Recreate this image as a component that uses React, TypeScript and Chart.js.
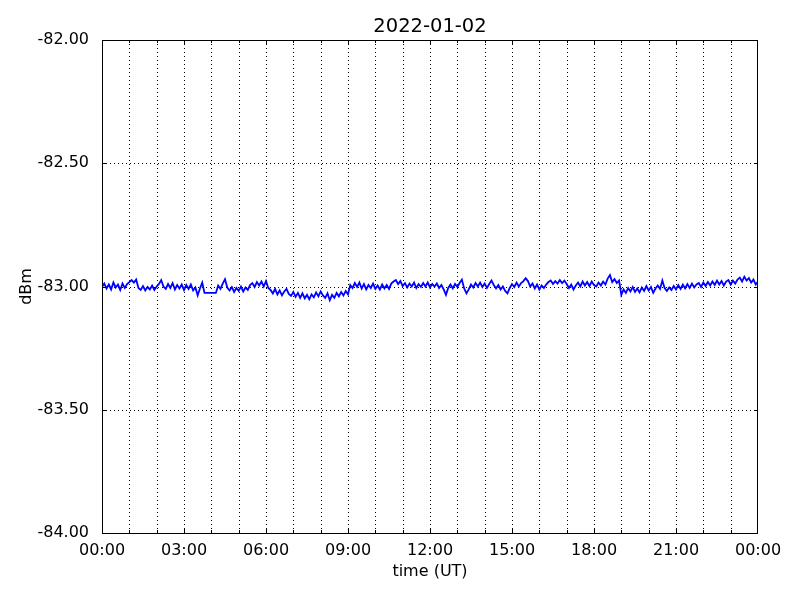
import React, { useEffect, useRef } from "react";
import { Chart, registerables } from "chart.js";

Chart.register(...registerables);

const TITLE = "2022-01-02";
const X_LABEL = "time (UT)";
const Y_LABEL = "dBm";
const STEP_MIN = 5;
const xTickLabels = ["00:00", "03:00", "06:00", "09:00", "12:00", "15:00", "18:00", "21:00", "00:00"];
const yTickValues = [-84, -83.5, -83, -82.5, -82];

// received power (dBm), one sample every 5 minutes, null = missing
const power: (number | null)[] = [
  -83.002, -82.988, -83.008, -82.992, -83.012, -82.984, -83.004, -82.992, -83.014, -82.988,
  -83.006, -82.990, -82.982, -82.974, -82.984, -82.972, -83.006, -83.014, -82.998, -83.016,
  -83.002, -83.012, -82.996, -83.014, -83.000, -82.990, -82.974, -83.000, -83.010, -82.990,
  -83.006, -82.986, -83.012, -82.994, -83.008, -82.992, -83.014, -82.994, -83.010, -82.992,
  -83.016, -83.004, -83.036, -83.008, -82.984, -83.026, null, null, null, null,
  -83.026, -82.996, -83.010, -82.988, -82.970, -83.004, -83.016, -83.002, -83.022, -83.006,
  -83.018, -83.000, -83.020, -83.004, -83.014, -82.994, -82.986, -83.002, -82.982, -82.996,
  -82.980, -83.000, -82.978, -83.006, -83.014, -83.028, -83.010, -83.032, -83.016, -83.036,
  -83.020, -83.010, -83.030, -83.038, -83.022, -83.042, -83.026, -83.046, -83.028, -83.048,
  -83.034, -83.052, -83.032, -83.044, -83.024, -83.040, -83.020, -83.036, -83.046, -83.028,
  -83.056, -83.034, -83.046, -83.026, -83.040, -83.022, -83.036, -83.018, -83.032, -82.994,
  -83.006, -82.986, -83.002, -82.984, -83.008, -82.990, -83.012, -82.994, -83.006, -82.988,
  -83.010, -82.996, -83.012, -82.992, -83.008, -82.994, -83.010, -82.988, -82.980, -82.974,
  -82.990, -82.978, -82.998, -82.986, -83.004, -82.988, -83.000, -82.984, -83.006, -82.990,
  -83.002, -82.986, -83.000, -82.984, -83.004, -82.990, -83.000, -82.988, -83.006, -82.994,
  -83.012, -83.034, -83.006, -82.992, -83.008, -82.990, -83.002, -82.986, -82.972, -83.008,
  -83.028, -83.012, -82.992, -83.004, -82.986, -83.000, -82.984, -83.002, -82.988, -83.006,
  -82.990, -82.976, -82.994, -83.008, -82.994, -83.012, -83.000, -83.018, -83.028, -83.006,
  -82.990, -83.002, -82.984, -83.000, -82.986, -82.978, -82.966, -82.978, -83.000, -82.988,
  -83.008, -82.992, -83.012, -82.996, -83.006, -82.992, -82.982, -82.976, -82.990, -82.978,
  -82.988, -82.974, -82.986, -82.976, -82.990, -83.006, -82.992, -83.012, -82.996, -82.984,
  -83.000, -82.980, -82.996, -82.982, -82.998, -82.980, -82.994, -83.000, -82.984, -82.996,
  -82.980, -82.992, -82.968, -82.954, -82.982, -82.970, -82.986, -82.976, -83.034, -83.012,
  -83.026, -83.006, -83.020, -83.002, -83.022, -83.008, -83.024, -83.004, -83.018, -82.998,
  -83.016, -83.002, -83.026, -83.008, -82.996, -83.010, -82.976, -83.006, -83.018, -83.004,
  -83.014, -82.998, -83.012, -82.994, -83.010, -82.992, -83.008, -82.990, -83.006, -82.988,
  -83.004, -82.992, -82.986, -83.002, -82.984, -82.998, -82.982, -82.996, -82.980, -82.994,
  -82.976, -82.992, -82.978, -82.996, -82.980, -82.974, -82.992, -82.976, -82.988, -82.972,
  -82.964, -82.980, -82.960, -82.976, -82.966, -82.984, -82.972, -82.992, -82.980,
];

const FONT = "'DejaVu Sans', sans-serif";

const decorPlugin = {
  id: "decor",
  beforeDatasetsDraw(chart: any) {
    const { ctx, chartArea: a, scales } = chart;
    const xs = scales.x;
    const ys = scales.y;
    ctx.save();
    ctx.strokeStyle = "#000";
    ctx.lineWidth = 1;
    ctx.setLineDash([1, 3]);
    for (let m = 60; m < 1440; m += 60) {
      const px = Math.round(xs.getPixelForValue(m)) + 0.5;
      ctx.beginPath();
      ctx.moveTo(px, a.top);
      ctx.lineTo(px, a.bottom);
      ctx.stroke();
    }
    for (const v of yTickValues.slice(1, -1)) {
      const py = Math.round(ys.getPixelForValue(v)) + 0.5;
      ctx.beginPath();
      ctx.moveTo(a.left, py);
      ctx.lineTo(a.right, py);
      ctx.stroke();
    }
    ctx.restore();
  },
  afterDatasetsDraw(chart: any) {
    const { ctx, chartArea: a, scales } = chart;
    const xs = scales.x;
    const ys = scales.y;
    ctx.save();
    ctx.strokeStyle = "#000";
    ctx.lineWidth = 1;
    ctx.setLineDash([]);
    ctx.strokeRect(Math.round(a.left) + 0.5, Math.round(a.top) + 0.5, Math.round(a.right - a.left) - 1, Math.round(a.bottom - a.top));
    // inward ticks
    ctx.beginPath();
    for (let m = 60; m < 1440; m += 60) {
      const px = Math.round(xs.getPixelForValue(m)) + 0.5;
      const len = m % 180 === 0 ? 4 : 3;
      ctx.moveTo(px, a.bottom);
      ctx.lineTo(px, a.bottom - len);
      ctx.moveTo(px, a.top);
      ctx.lineTo(px, a.top + len);
    }
    for (const v of yTickValues.slice(1, -1)) {
      const py = Math.round(ys.getPixelForValue(v)) + 0.5;
      ctx.moveTo(a.left, py);
      ctx.lineTo(a.left + 4, py);
      ctx.moveTo(a.right, py);
      ctx.lineTo(a.right - 4, py);
    }
    ctx.stroke();
    // texts
    ctx.fillStyle = "#000";
    ctx.textAlign = "center";
    ctx.textBaseline = "middle";
    ctx.font = `19.5px ${FONT}`;
    ctx.fillText(TITLE, (a.left + a.right) / 2, 27);
    ctx.font = `16px ${FONT}`;
    ctx.fillText(X_LABEL, (a.left + a.right) / 2, 572);
    ctx.translate(27, (a.top + a.bottom) / 2);
    ctx.rotate(-Math.PI / 2);
    ctx.fillText(Y_LABEL, 0, 0);
    ctx.restore();
  },
};

export default function App() {
  const ref = useRef<HTMLCanvasElement | null>(null);
  useEffect(() => {
    if (!ref.current) return;
    const data = power.map((v, i) => ({ x: i * STEP_MIN, y: v }));
    const chart = new Chart(ref.current, {
      type: "line",
      data: {
        datasets: [
          {
            data: data as any,
            borderColor: "#0000ff",
            borderWidth: 1.8,
            pointRadius: 0,
            tension: 0,
            spanGaps: true,
            fill: false,
          },
        ],
      },
      options: {
        animation: false,
        responsive: false,
        maintainAspectRatio: false,
        events: [],
        layout: { padding: { left: 0, right: 42, top: 40, bottom: 0 } },
        plugins: { legend: { display: false }, tooltip: { enabled: false }, title: { display: false } },
        scales: {
          x: {
            type: "linear",
            min: 0,
            max: 1440,
            grid: { display: false },
            border: { display: false },
            afterFit: (s: any) => {
              s.height = 67;
            },
            ticks: {
              stepSize: 60,
              autoSkip: false,
              maxRotation: 0,
              padding: 0,
              color: "#000",
              font: { family: FONT, size: 16 },
              callback: (v: any) => {
                const n = Number(v);
                return n % 180 === 0 ? xTickLabels[n / 180] : "";
              },
            },
          },
          y: {
            type: "linear",
            min: -84,
            max: -82,
            grid: { display: false },
            border: { display: false },
            afterFit: (s: any) => {
              s.width = 102;
            },
            ticks: {
              stepSize: 0.5,
              padding: 5,
              color: "#000",
              font: { family: FONT, size: 16 },
              callback: (v: any) => Number(v).toFixed(2),
            },
          },
        },
      },
      plugins: [decorPlugin],
    });
    return () => chart.destroy();
  }, []);
  return (
    <div style={{ position: "absolute", left: 0, top: 0, width: 800, height: 600, background: "#fff" }}>
      <canvas ref={ref} width={800} height={600} style={{ width: 800, height: 600 }} />
    </div>
  );
}
